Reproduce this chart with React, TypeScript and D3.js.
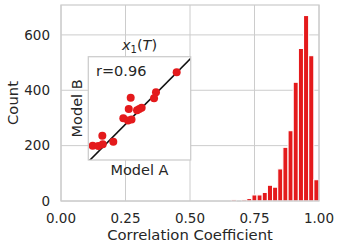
import * as d3 from 'd3'
import { useRef, useEffect } from 'react'

// histogram of correlation coefficients (bin width 0.02)
const binStart = [0.66, 0.70, 0.72, 0.74, 0.76, 0.78, 0.80, 0.82, 0.84, 0.86, 0.88, 0.90, 0.92, 0.94, 0.96, 0.98]
const counts = [5, 5, 9, 22, 22, 31, 57, 50, 116, 194, 254, 429, 551, 670, 525, 77]
const binWidth = 0.02
const xTicks = [0, 0.25, 0.5, 0.75, 1]
const yTicks = [0, 200, 400, 600]

// inset scatter: Model A vs Model B
const modelA = [0.863, 0.661, 0.642, 0.414, 0.521, 0.498, 0.476, 0.395, 0.342, 0.388, 0.422, 0.137, 0.043, 0.098, 0.141, 0.244]
const modelB = [0.849, 0.655, 0.597, 0.603, 0.506, 0.494, 0.481, 0.494, 0.404, 0.382, 0.392, 0.235, 0.138, 0.136, 0.152, 0.177]
const fitSlope = 1.0
const fitIntercept = -0.017
const rLabel = 'r=0.96'

const RED = '#e41a1c'
const GRID = '#cccccc'
const TEXT = '#262626'
const FONT = 'DejaVu Sans, sans-serif'

export default function App() {
  const svgRef = useRef(null)
  const width = 341
  const height = 249

  useEffect((): void => {
    const svg = d3.select(svgRef.current)
    svg.selectAll('*').remove()

    const left = 61, right = 319, top = 5, bottom = 201
    const x = d3.scaleLinear().domain([0, 1]).range([left, right])
    const y = d3.scaleLinear().domain([0, 708]).range([bottom, top])

    // grid
    svg.append('g').selectAll('line').data(xTicks).enter().append('line')
      .attr('x1', d => x(d)).attr('x2', d => x(d))
      .attr('y1', top).attr('y2', bottom)
      .attr('stroke', GRID).attr('stroke-width', 1)
    svg.append('g').selectAll('line').data(yTicks).enter().append('line')
      .attr('x1', left).attr('x2', right)
      .attr('y1', d => y(d)).attr('y2', d => y(d))
      .attr('stroke', GRID).attr('stroke-width', 1)

    // bars
    svg.append('g').selectAll('rect').data(counts).enter().append('rect')
      .attr('x', (d, i) => x(binStart[i]))
      .attr('width', x(binWidth) - x(0))
      .attr('y', d => y(d))
      .attr('height', d => y(0) - y(d))
      .attr('fill', RED)
      .attr('stroke', 'white').attr('stroke-width', 1.1)

    // spines
    svg.append('rect')
      .attr('x', left).attr('y', top)
      .attr('width', right - left).attr('height', bottom - top)
      .attr('fill', 'none').attr('stroke', GRID).attr('stroke-width', 1.25)

    // tick labels
    svg.append('g').selectAll('text').data(xTicks).enter().append('text')
      .attr('x', d => x(d)).attr('y', 223)
      .attr('text-anchor', 'middle')
      .attr('font-family', FONT).attr('font-size', 13.5).attr('fill', TEXT)
      .text(d => d3.format('.2f')(d))
    svg.append('g').selectAll('text').data(yTicks).enter().append('text')
      .attr('x', 50).attr('y', d => y(d))
      .attr('dy', '0.36em')
      .attr('text-anchor', 'end')
      .attr('font-family', FONT).attr('font-size', 13.5).attr('fill', TEXT)
      .text(d => String(d))

    svg.append('text')
      .attr('x', (left + right) / 2).attr('y', 240)
      .attr('text-anchor', 'middle')
      .attr('font-family', FONT).attr('font-size', 14.8).attr('fill', TEXT)
      .text('Correlation Coefficient')
    svg.append('text')
      .attr('transform', `translate(18,${(top + bottom) / 2}) rotate(-90)`)
      .attr('text-anchor', 'middle')
      .attr('font-family', FONT).attr('font-size', 14.8).attr('fill', TEXT)
      .text('Count')

    // inset
    const iL = 88.3, iR = 190.7, iT = 56.7, iB = 160
    const ix = d3.scaleLinear().domain([0, 1]).range([iL, iR])
    const iy = d3.scaleLinear().domain([0, 1]).range([iB, iT])
    const inset = svg.append('g')

    svg.append('defs').append('clipPath').attr('id', 'insetClip')
      .append('rect').attr('x', iL).attr('y', iT).attr('width', iR - iL).attr('height', iB - iT)

    inset.append('rect')
      .attr('x', iL).attr('y', iT).attr('width', iR - iL).attr('height', iB - iT)
      .attr('fill', 'white')

    const plot = inset.append('g').attr('clip-path', 'url(#insetClip)')
    const line = d3.line<number>().x(d => ix(d)).y(d => iy(fitSlope * d + fitIntercept))
    plot.append('path')
      .attr('d', line([0, 1.05]))
      .attr('stroke', '#111').attr('stroke-width', 1.6).attr('fill', 'none')
    plot.selectAll('circle').data(modelA).enter().append('circle')
      .attr('cx', d => ix(d)).attr('cy', (d, i) => iy(modelB[i]))
      .attr('r', 4).attr('fill', RED)

    inset.append('rect')
      .attr('x', iL).attr('y', iT).attr('width', iR - iL).attr('height', iB - iT)
      .attr('fill', 'none').attr('stroke', GRID).attr('stroke-width', 1.25)

    inset.append('text')
      .attr('x', 96).attr('y', 75.7)
      .attr('font-family', FONT).attr('font-size', 14.5).attr('fill', TEXT)
      .text(rLabel)
    inset.append('text')
      .attr('x', (iL + iR) / 2).attr('y', 175)
      .attr('text-anchor', 'middle')
      .attr('font-family', FONT).attr('font-size', 14.5).attr('fill', TEXT)
      .text('Model A')
    inset.append('text')
      .attr('transform', `translate(81.5,${(iT + iB) / 2}) rotate(-90)`)
      .attr('text-anchor', 'middle')
      .attr('font-family', FONT).attr('font-size', 14.5).attr('fill', TEXT)
      .text('Model B')

    const title = inset.append('text')
      .attr('x', (iL + iR) / 2).attr('y', 50)
      .attr('text-anchor', 'middle')
      .attr('font-family', FONT).attr('font-size', 14.5).attr('fill', TEXT)
    title.append('tspan').attr('font-style', 'italic').text('x')
    title.append('tspan').attr('font-size', 10).attr('dy', 3).text('1')
    title.append('tspan').attr('dy', -3).text('(')
    title.append('tspan').attr('font-style', 'italic').text('T')
    title.append('tspan').text(')')
  }, [])

  return <svg ref={svgRef} width={width} height={height}
    style={{ position: 'absolute', left: 0, top: 0, background: 'white' }}></svg>
}
